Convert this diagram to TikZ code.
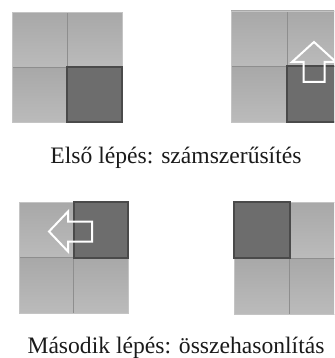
\documentclass[tikz,border=0pt]{standalone}
\usepackage{fontspec}
\setmainfont{Liberation Serif}
\begin{document}
\begin{tikzpicture}[x=1pt,y=-1pt,
  lightcell/.style={top color=lighttop,bottom color=lightbot,draw=gridline,line width=0.8pt},
  darkcell/.style={fill=darkfill,draw=darkedge,line width=2pt},
  outerbox/.style={draw=outeredge,line width=0.8pt},
  arrowshape/.style={draw=white,line width=2pt,line join=miter},
  caption/.style={anchor=base,font=\fontsize{23.6}{28}\selectfont,text=captext,inner sep=0pt}]
\definecolor{lighttop}{HTML}{A8A8A8}
\definecolor{lightbot}{HTML}{BBBBBB}
\definecolor{gridline}{HTML}{8E8E8E}
\definecolor{darkfill}{HTML}{6D6D6D}
\definecolor{darkedge}{HTML}{4A4A4A}
\definecolor{outeredge}{HTML}{C4C4C4}
\definecolor{captext}{HTML}{1A1A1A}
\useasboundingbox (0,0) rectangle (334,358);
\clip (0,0) rectangle (334,358);
% grid 1
\foreach \i in {0,1}{\foreach \j in {0,1}{
  \draw[lightcell] (12+55*\i,12.5+55*\j) rectangle ++(55,55);}}
\draw[outerbox] (12,12.5) rectangle (122,122.5);
\draw[darkcell] (67,67.5) rectangle (122,122.5);
% grid 2
\foreach \i in {0,1}{\foreach \j in {0,1}{
  \draw[lightcell] (231+56*\i,11+55.5*\j) rectangle ++(56,55.5);}}
\draw[outerbox] (231,11) rectangle (343,122);
\draw[darkcell] (287,66.5) rectangle (343,122);
\draw[arrowshape] (314,42) -- (336,62) -- (324.5,62) -- (324.5,82) -- (303.5,82) -- (303.5,62) -- (292,62) -- cycle;
% grid 3
\foreach \i in {0,1}{\foreach \j in {0,1}{
  \draw[lightcell] (19+54.5*\i,202+55.5*\j) rectangle ++(54.5,55.5);}}
\draw[outerbox] (19,202) rectangle (128,313);
\draw[darkcell] (73.5,202) rectangle (128,257.5);
\draw[arrowshape] (49,231.5) -- (68,211.5) -- (68,221.5) -- (92,221.5) -- (92,241.5) -- (68,241.5) -- (68,251.5) -- cycle;
% grid 4
\foreach \i in {0,1}{\foreach \j in {0,1}{
  \draw[lightcell] (234+55.5*\i,202+56*\j) rectangle ++(55.5,56);}}
\draw[outerbox] (234,202) rectangle (345,314);
\draw[darkcell] (234,202) rectangle (289.5,258);
% captions
\node[caption] (t1) at (176,163) {Első lépés: számszerűsítés};
\node[caption] (t2) at (176,353.5) {Második lépés: összehasonlítás};
\end{tikzpicture}
\end{document}
